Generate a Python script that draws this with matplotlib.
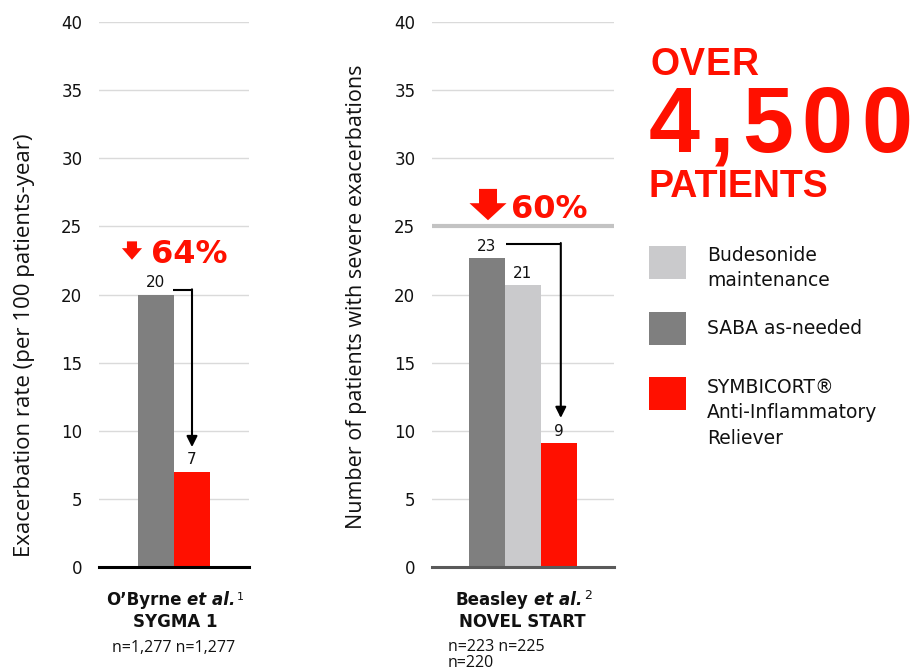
import matplotlib
matplotlib.use("Agg")
import matplotlib.pyplot as plt
from matplotlib.patches import FancyArrow, Rectangle
import numpy as np

# ---------------- data ----------------
sygma_groups = ["SABA as-needed", "SYMBICORT Anti-Inflammatory Reliever"]
sygma_values = [20.0, 7.0]
sygma_value_labels = ["20", "7"]
sygma_reduction = "64%"

novel_groups = ["SABA as-needed", "Budesonide maintenance", "SYMBICORT Anti-Inflammatory Reliever"]
novel_values = [22.7, 20.7, 9.1]
novel_value_labels = ["23", "21", "9"]
novel_reduction = "60%"

y_ticks = [0, 5, 10, 15, 20, 25, 30, 35, 40]

legend_groups = ["Budesonide maintenance", "SABA as-needed", "SYMBICORT Anti-Inflammatory Reliever"]
legend_texts = ["Budesonide\nmaintenance", "SABA as-needed", "SYMBICORT®\nAnti-Inflammatory\nReliever"]

colors = {
    "SABA as-needed": "#7f7f7f",
    "Budesonide maintenance": "#cacacc",
    "SYMBICORT Anti-Inflammatory Reliever": "#ff1000",
}
RED = "#ff1000"
TXT = "#111111"

W, H = 920, 672
fig = plt.figure(figsize=(W / 100, H / 100), dpi=100)
renderer = fig.canvas.get_renderer()

TICK_FONT = "DejaVu Sans"
LABEL_FONT = "Open Sans"


def setup_axes(rect, xlim, spine_color):
    ax = fig.add_axes(rect)
    ax.set_ylim(0, 40)
    ax.set_xlim(*xlim)
    ax.set_yticks(y_ticks)
    ax.set_yticklabels([str(t) for t in y_ticks], fontsize=12, family=TICK_FONT, color=TXT)
    ax.tick_params(axis="y", length=0, pad=12)
    ax.set_xticks([])
    for s in ["top", "right", "left"]:
        ax.spines[s].set_visible(False)
    ax.spines["bottom"].set_color(spine_color)
    ax.spines["bottom"].set_linewidth(2.2)
    ax.spines["bottom"].set_zorder(5)
    ax.yaxis.grid(True, color="#dadada", lw=1)
    ax.set_axisbelow(True)
    return ax


# ---------------- left chart ----------------
axL = setup_axes([99 / W, 105 / H, 150 / W, 545 / H], (-1.583, 2.583), "#000000")
xL = np.arange(len(sygma_values))
axL.bar(xL, sygma_values, width=1.0, color=[colors[g] for g in sygma_groups], zorder=2)
for x, v, lab in zip(xL, sygma_values, sygma_value_labels):
    axL.annotate(lab, (x, v), xytext=(0, 3), textcoords="offset points",
                 ha="center", va="bottom", fontsize=11, family=TICK_FONT, color=TXT)
# connector arrow
yc = sygma_values[0] + 0.3
axL.plot([xL[0] + 0.47, xL[1]], [yc, yc], color="black", lw=1.5, solid_capstyle="butt", zorder=3)
axL.annotate("", xy=(xL[1], sygma_values[1] + 1.8), xytext=(xL[1], yc + 0.08),
             arrowprops=dict(arrowstyle="-|>", color="black", lw=1.5, mutation_scale=16,
                             shrinkA=0, shrinkB=0), zorder=3)
# reduction
axL.add_patch(FancyArrow(-0.667, 23.9, 0, -1.35, width=0.28, head_width=0.56, head_length=0.85,
                         length_includes_head=True, color=RED, lw=0, zorder=4))
axL.text(0.917, 22.3, sygma_reduction, ha="center", va="baseline", fontsize=23,
         fontweight="bold", family="DejaVu Sans", color=RED)

# ---------------- right chart ----------------
axR = setup_axes([432 / W, 105 / H, 182 / W, 545 / H], (-1.528, 3.528), "#5a5a5a")
xR = np.arange(len(novel_values))
axR.bar(xR, novel_values, width=1.0, color=[colors[g] for g in novel_groups], zorder=2)
for x, v, lab in zip(xR, novel_values, novel_value_labels):
    axR.annotate(lab, (x, v), xytext=(0, 3), textcoords="offset points",
                 ha="center", va="bottom", fontsize=11, family=TICK_FONT, color=TXT)
axR.axhline(25, color="#c3c3c3", lw=3, zorder=1.5)
yc = novel_values[0] + 1.0
axR.plot([xR[0] + 0.53, xR[2] + 0.05], [yc, yc], color="black", lw=1.5, solid_capstyle="butt", zorder=3)
axR.annotate("", xy=(xR[2] + 0.05, novel_values[2] + 1.84), xytext=(xR[2] + 0.05, yc + 0.08),
             arrowprops=dict(arrowstyle="-|>", color="black", lw=1.5, mutation_scale=16,
                             shrinkA=0, shrinkB=0), zorder=3)
axR.add_patch(FancyArrow(0.028, 27.75, 0, -2.3, width=0.5, head_width=1.03, head_length=1.25,
                         length_includes_head=True, color=RED, lw=0, zorder=4))
axR.text(1.722, 25.65, novel_reduction, ha="center", va="baseline", fontsize=23,
         fontweight="bold", family="DejaVu Sans", color=RED)

# ---------------- y labels ----------------
fig.text(25 / W, 1 - 345 / H, "Exacerbation rate (per 100 patients-year)", rotation=90,
         ha="center", va="center", fontsize=16, family=LABEL_FONT, color=TXT)
fig.text(357 / W, 1 - 297 / H, "Number of patients with severe exacerbations", rotation=90,
         ha="center", va="center", fontsize=15.5, family=LABEL_FONT, color=TXT)


# ---------------- helpers for composite text ----------------
def pieces_line(pieces, xc_px, baseline_px):
    """pieces: list of (text, kwargs, gap_before_px, raise_px)"""
    objs = []
    widths = []
    for s, kw, gap, dy in pieces:
        t = fig.text(0, 0, s, ha="left", va="baseline", **kw)
        bb = t.get_window_extent(renderer=renderer)
        objs.append((t, gap, dy))
        widths.append(bb.width)
    total = sum(widths) + sum(p[2] for p in pieces)
    x = xc_px - total / 2
    for (t, gap, dy), w in zip(objs, widths):
        x += gap
        t.set_position((x / W, 1 - (baseline_px - dy) / H))
        x += w


def tracked(s, x_px, baseline_px, tracking, **kw):
    x = x_px
    for ch in s:
        t = fig.text(x / W, 1 - baseline_px / H, ch, ha="left", va="baseline", **kw)
        x += t.get_window_extent(renderer=renderer).width + tracking


B = dict(fontsize=12, fontweight="bold", family="DejaVu Sans", color=TXT)
BI = dict(fontsize=12, fontweight="bold", style="italic", family="DejaVu Sans", color=TXT)
SUP = dict(fontsize=8, family="DejaVu Sans", color=TXT)
N = dict(fontsize=11.5, family=LABEL_FONT, color=TXT)

# left bottom labels
pieces_line([("O’Byrne", B, 0, 0), ("et al.", BI, 5, 0), ("1", SUP, 1, 5)], 175, 605)
pieces_line([("SYGMA 1", B, 0, 0)], 175, 627)
pieces_line([("n=1,277 n=1,277", N, 0, 0)], 174, 652)

# right bottom labels
pieces_line([("Beasley", B, 0, 0), ("et al.", BI, 5, 0), ("2", dict(SUP, fontsize=9), 2, 6)], 524, 605)
pieces_line([("NOVEL START", B, 0, 0)], 522, 627)
fig.text(448 / W, 1 - 651 / H, "n=223 n=225", ha="left", va="baseline", **N)
fig.text(448 / W, 1 - 667 / H, "n=220", ha="left", va="baseline", **N)

# ---------------- big red headline ----------------
BIG = dict(family="Liberation Sans", fontweight="bold", color=RED)
tracked("OVER", 650, 75, 0.8, fontsize=27, **BIG)
tracked("4,500", 649, 152, 8.5, fontsize=66, **BIG)
fig.text(649 / W, 1 - 197 / H, "PATIENTS", ha="left", va="baseline", fontsize=27, **BIG)

# ---------------- legend ----------------
legend_tops = [246, 312, 377]
text_first_line = [255, 328, 387]
for g, lab, top, ty in zip(legend_groups, legend_texts, legend_tops, text_first_line):
    fig.add_artist(Rectangle((649 / W, 1 - (top + 33) / H), 37 / W, 33 / H,
                             transform=fig.transFigure, facecolor=colors[g], edgecolor="none"))
    fig.text(707 / W, 1 - (ty - 9) / H, lab, ha="left", va="top", fontsize=13.5,
             family="DejaVu Sans", color=TXT, linespacing=1.42)

fig.savefig("out.png", dpi=100)
